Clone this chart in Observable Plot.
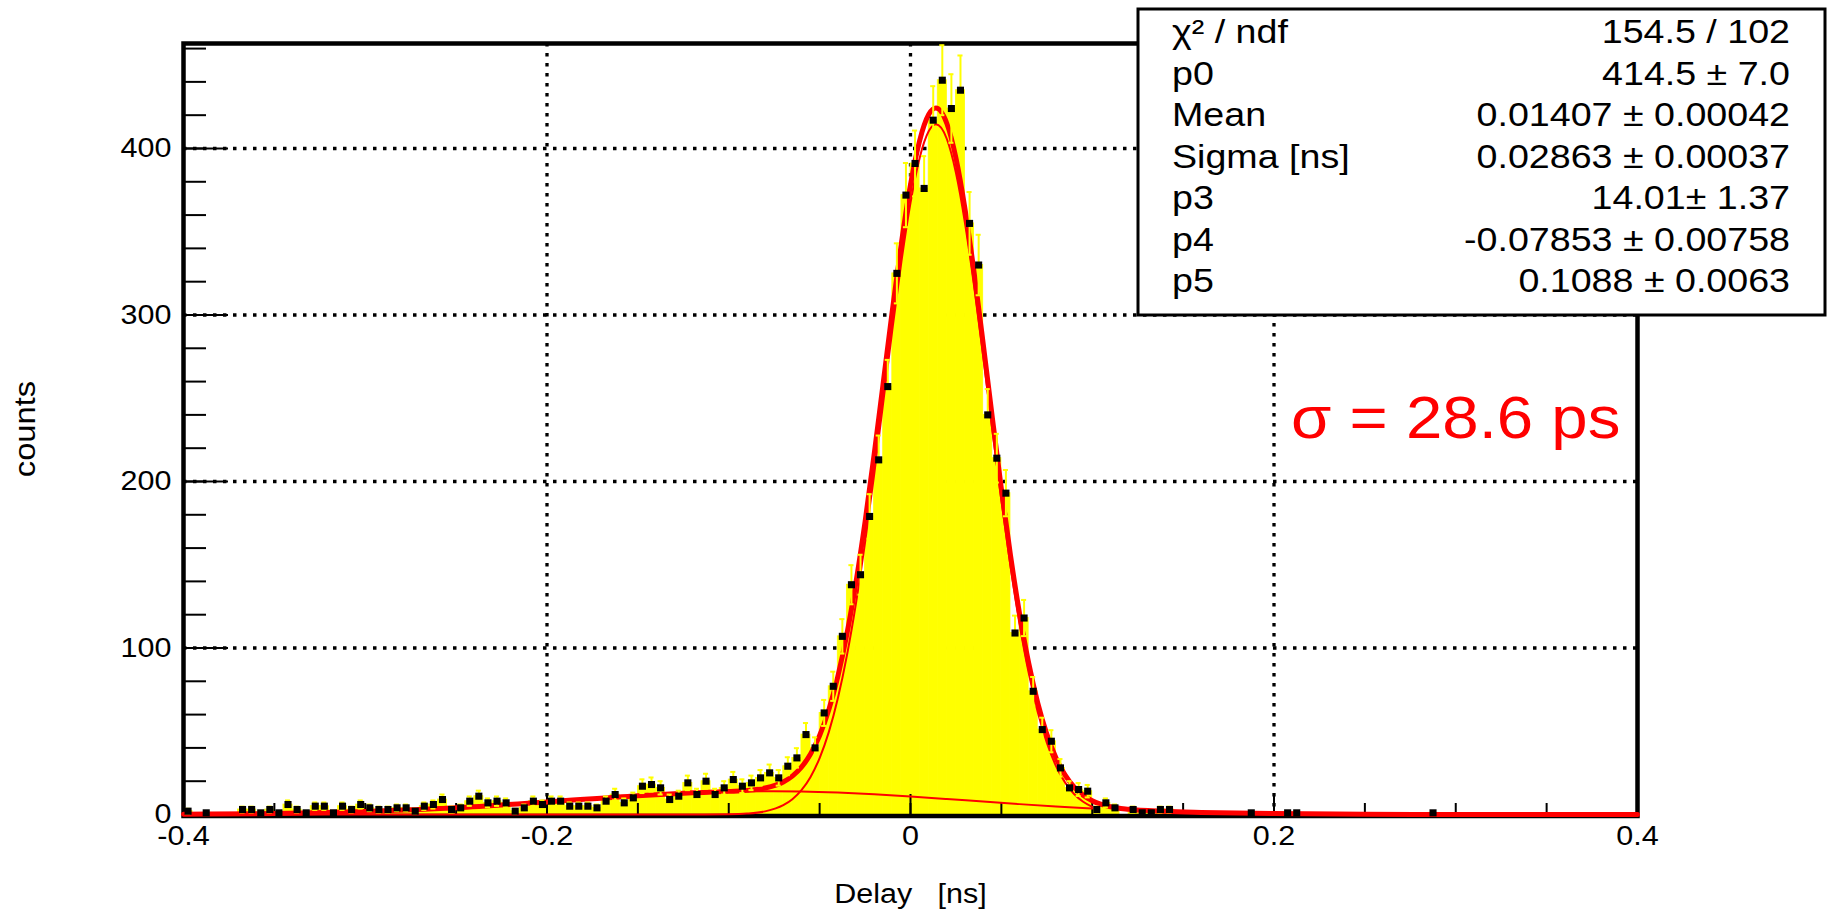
<!DOCTYPE html>
<html>
<head>
<meta charset="utf-8">
<script src="https://cdn.jsdelivr.net/npm/d3@7"></script>
<script src="https://cdn.jsdelivr.net/npm/@observablehq/plot@0.6"></script>
<style>
  html, body { margin: 0; padding: 0; background: #ffffff; }
  #chart { width: 1827px; height: 911px; overflow: hidden; }
</style>
</head>
<body>
<div id="chart"></div>
<script>
// ---------------- data ----------------
// histogram: 160 bins of 0.005 ns from -0.4 to 0.4 ns
const histStart = -0.4;
const binWidth = 0.005;
const counts = [
  2,0,1,0,0,0,3,3,1,3,
  1,6,3,1,5,5,1,5,3,6,
  4,3,3,4,4,2,5,6,9,3,
  4,8,11,7,8,7,2,4,8,6,
  8,8,5,5,5,4,8,12,7,10,
  17,18,16,9,11,19,12,20,12,16,
  21,17,19,22,25,22,29,34,48,40,
  61,77,107,138,144,179,213,257,325,372,
  391,376,417,441,424,435,355,330,240,214,
  193,109,118,74,51,44,28,16,15,14,
  3,7,4,0,3,1,1,3,3,0,
  0,0,0,0,0,0,0,1,0,0,
  0,1,1,0,0,0,0,0,0,0,
  0,0,0,0,0,0,0,1,0,0,
  0,0,0,0,0,0,0,0,0,0,
  0,0,0,0,0,0,0,0,0,0
];

// total fit curve
const fitX = [-0.4,-0.35,-0.3,-0.25,-0.2,-0.15,-0.12,-0.1,-0.09,-0.08,-0.07,-0.065,-0.06,-0.055,-0.05,-0.045,-0.04,-0.035,-0.03,-0.025,-0.02,-0.015,-0.01,-0.005,0,0.005,0.01,0.014,0.02,0.025,0.03,0.035,0.04,0.045,0.05,0.055,0.06,0.065,0.07,0.075,0.08,0.085,0.09,0.095,0.1,0.11,0.12,0.14,0.16,0.2,0.25,0.3,0.35,0.4];
const fitTotal = [0.18,0.62,1.77,4.05,7.51,11.29,13.04,13.89,14.49,15.89,19.53,23.05,28.41,36.27,47.43,62.69,82.84,108.35,139.48,175.81,216.32,259.31,302.59,343.25,378.2,404.63,420.36,424.26,415.0,394.31,363.62,325.43,282.74,238.55,195.57,155.8,120.63,91.07,67.02,48.25,34.09,23.8,16.53,11.56,8.24,4.63,3.09,1.89,1.27,0.53,0.15,0.03,0,0];

// narrow gaussian component (thin red line)
const peakX = [-0.4,-0.2,-0.12,-0.1,-0.09,-0.08,-0.07,-0.065,-0.06,-0.055,-0.05,-0.045,-0.04,-0.035,-0.03,-0.025,-0.02,-0.015,-0.01,-0.005,0,0.005,0.01,0.014,0.02,0.025,0.03,0.035,0.04,0.045,0.05,0.055,0.06,0.065,0.07,0.075,0.08,0.085,0.09,0.095,0.1];
const peakY = [0,0,0.01,0.15,0.56,1.88,5.56,9.15,14.6,22.58,33.89,49.33,69.68,95.42,126.8,163.4,204.2,247.5,291.1,332.1,367.4,394.2,410.3,414.5,405.7,385.4,355.1,317.3,275.0,231.2,188.6,149.2,114.4,85.2,61.5,43.07,29.24,19.27,12.31,7.63,4.59];

// broad tail component (thin red line)
const tailX = [-0.4,-0.35,-0.3,-0.25,-0.2,-0.15,-0.12,-0.1,-0.08,-0.06,-0.04,-0.02,0,0.02,0.04,0.06,0.08,0.1];
const tailY = [0.18,0.62,1.77,4.05,7.51,11.29,13.03,13.74,14.01,13.81,13.16,12.12,10.80,9.30,7.74,6.23,4.85,3.65];

// axes
const xDomain = [-0.4, 0.4];
const yDomain = [0, 463.05];
const xLabelTicks = [-0.4, -0.2, 0, 0.2, 0.4];
const xTickLabels = ["-0.4", "-0.2", "0", "0.2", "0.4"];
const xMinorTicks = [-0.4,-0.35,-0.3,-0.25,-0.2,-0.15,-0.1,-0.05,0,0.05,0.1,0.15,0.2,0.25,0.3,0.35,0.4];
const yLabelTicks = [0, 100, 200, 300, 400];
const yMinorTicks = [0,20,40,60,80,100,120,140,160,180,200,220,240,260,280,300,320,340,360,380,400,420,440,460];
const xGrid = [-0.2, 0, 0.2];
const yGrid = [100, 200, 300, 400];
const xTitle = "Delay\u00a0\u00a0\u00a0[ns]";
const yTitle = "counts";
const sigmaLabel = "σ = 28.6 ps";

// fit statistics box
const statNames = ["χ² / ndf", "p0", "Mean", "Sigma [ns]", "p3", "p4", "p5"];
const statValues = ["154.5 / 102", "414.5 ± 7.0", "0.01407 ± 0.00042", "0.02863 ± 0.00037", "14.01± 1.37", "-0.07853 ± 0.00758", "0.1088 ± 0.0063"];

// ---------------- chart ----------------
const W = 1827, H = 911, mL = 183, mR = 190, mT = 43, mB = 97;
const innerW = W - mL - mR, innerH = H - mT - mB;
const YEL = "#ffff00", RED = "#ff0000";
const FONT = "'Liberation Sans', Arial, Helvetica, sans-serif";

const bins = counts.map((c, i) => ({
  x1: histStart + i * binWidth,
  x2: histStart + (i + 1) * binWidth,
  x: histStart + (i + 0.5) * binWidth,
  count: c
}));
const filled = bins.filter(d => d.count > 0);
const capHalf = binWidth * 0.28;

const total = fitX.map((x, i) => ({x, y: fitTotal[i]}));
const peak = peakX.map((x, i) => ({x, y: peakY[i]}));
const tail = tailX.map((x, i) => ({x, y: tailY[i]}));

const plot = Plot.plot({
  width: W, height: H,
  marginLeft: mL, marginRight: mR, marginTop: mT, marginBottom: mB,
  style: {fontFamily: FONT, background: "white", color: "black", overflow: "visible"},
  x: {domain: xDomain},
  y: {domain: yDomain},
  marks: [
    Plot.ruleY(yGrid, {stroke: "black", strokeWidth: 3.3, strokeDasharray: "3.5 6.5"}),
    Plot.ruleX(xGrid, {stroke: "black", strokeWidth: 3.3, strokeDasharray: "3.5 6.5"}),
    Plot.rectY(filled, {x1: "x1", x2: "x2", y: "count", fill: YEL, stroke: YEL, strokeWidth: 0.8}),
    Plot.frame({stroke: "black", strokeWidth: 4.5, insetBottom: -1.5}),
    Plot.tickY(yMinorTicks, {y: d => d, stroke: "black", strokeWidth: 2, insetRight: innerW - 23}),
    Plot.tickY(yLabelTicks, {y: d => d, stroke: "black", strokeWidth: 2, insetRight: innerW - 45}),
    Plot.tickX(xMinorTicks, {x: d => d, stroke: "black", strokeWidth: 2, insetTop: innerH - 11}),
    Plot.tickX(xLabelTicks, {x: d => d, stroke: "black", strokeWidth: 2, insetTop: innerH - 20}),
    Plot.line(tail, {x: "x", y: "y", stroke: RED, strokeWidth: 2, curve: "monotone-x"}),
    Plot.line(peak, {x: "x", y: "y", stroke: RED, strokeWidth: 2, curve: "monotone-x"}),
    Plot.line(total, {x: "x", y: "y", stroke: RED, strokeWidth: 5, curve: "monotone-x"}),
    Plot.ruleX(filled, {x: "x", y1: d => d.count - Math.sqrt(d.count), y2: d => d.count + Math.sqrt(d.count), stroke: YEL, strokeWidth: 2}),
    Plot.ruleY(filled, {y: d => d.count + Math.sqrt(d.count), x1: d => d.x - capHalf, x2: d => d.x + capHalf, stroke: YEL, strokeWidth: 2}),
    Plot.ruleY(filled, {y: d => d.count - Math.sqrt(d.count), x1: d => d.x - capHalf, x2: d => d.x + capHalf, stroke: YEL, strokeWidth: 2}),
    Plot.dot(filled, {x: "x", y: "count", symbol: "square", r: 4, fill: "black", stroke: null}),
    Plot.axisY({ticks: yLabelTicks, tickSize: 0, tickPadding: 12, fontSize: 28, label: null}),
    Plot.axisX({ticks: xLabelTicks, tickSize: 0, tickPadding: 11, fontSize: 28, label: null,
      tickFormat: d => xTickLabels[xLabelTicks.indexOf(d)]}),
    Plot.text([xTitle], {frameAnchor: "bottom", dy: 88, lineAnchor: "bottom", fontSize: 28, ariaLabel: "x-title"}),
    Plot.text([yTitle], {frameAnchor: "left", dx: -158, rotate: -90, textAnchor: "middle", fontSize: 30, ariaLabel: "y-title"}),
    Plot.text([sigmaLabel], {x: 0.3, y: 226, lineAnchor: "bottom", fontSize: 60, fill: RED, ariaLabel: "sigma"})
  ]
});

// ROOT text is slightly wider than Liberation Sans: stretch horizontally in place
d3.select(plot).selectAll("text").each(function () {
  const g = this.closest("g[aria-label]");
  const lab = g ? g.getAttribute("aria-label") : "";
  let s = 1.09;
  if (lab === "sigma") s = 1.04;
  else if (lab === "y-title") s = 1;
  const t = this.getAttribute("transform") || "";
  if (s !== 1) this.setAttribute("transform", `${t} scale(${s},1)`);
});

// statistics box
const box = d3.select(plot).append("g")
  .attr("font-family", FONT).attr("font-size", 33).attr("fill", "black");
box.append("rect")
  .attr("x", 1138).attr("y", 9).attr("width", 687).attr("height", 306)
  .attr("fill", "white").attr("stroke", "black").attr("stroke-width", 3);
statNames.forEach((n, i) => {
  box.append("text")
    .attr("text-anchor", "start")
    .attr("transform", `translate(1172,${43 + 41.5 * i}) scale(1.14,1)`)
    .text(n);
});
statValues.forEach((v, i) => {
  box.append("text")
    .attr("text-anchor", "end")
    .attr("transform", `translate(1790,${43 + 41.5 * i}) scale(1.14,1)`)
    .text(v);
});

document.getElementById("chart").appendChild(plot);
</script>
</body>
</html>
